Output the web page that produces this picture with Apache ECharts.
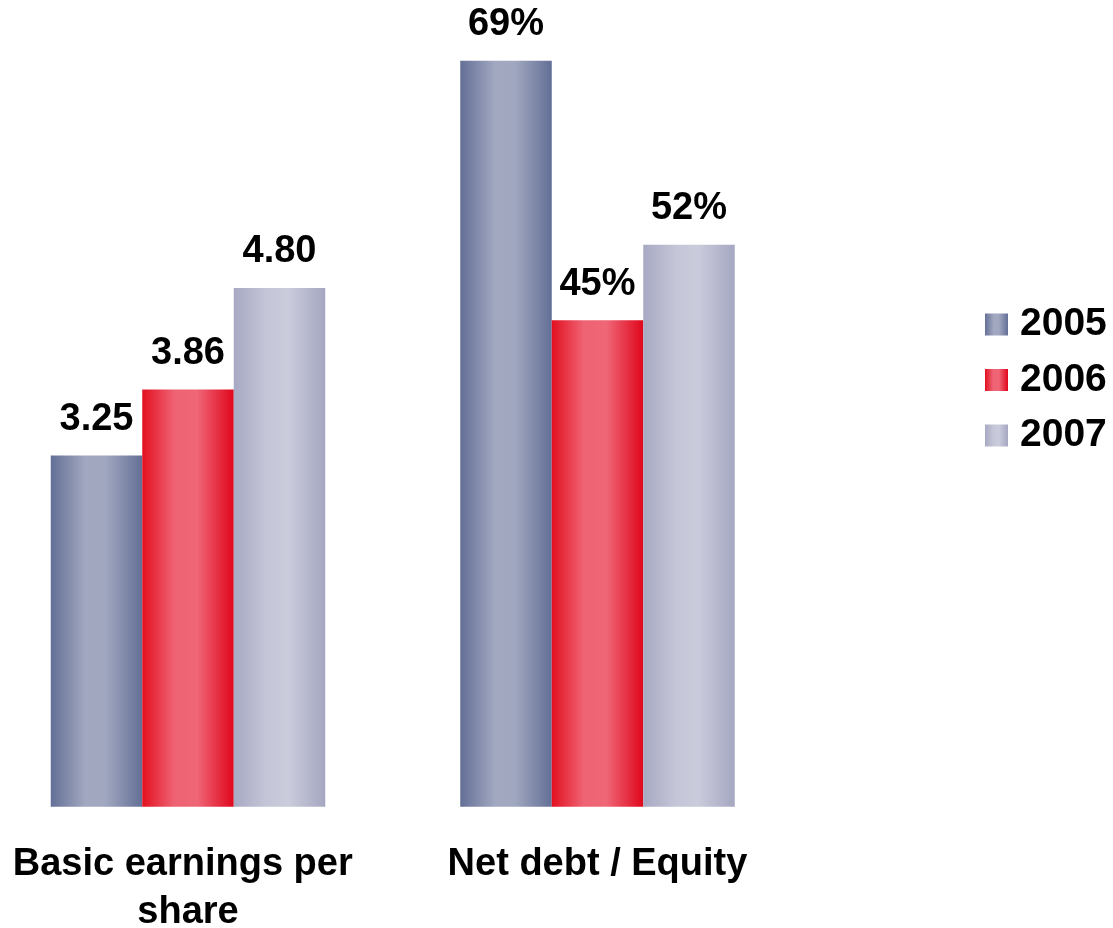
<!DOCTYPE html>
<html>
<head>
<meta charset="utf-8">
<script src="https://cdn.jsdelivr.net/npm/echarts@6/dist/echarts.min.js"></script>
<style>
html,body{margin:0;padding:0;background:#fff;}
#chart{width:1113px;height:928px;}
</style>
</head>
<body>
<div id="chart"></div>
<script>
// Categories and series (Net debt / Equity plotted on the shared axis as percent / 10, as in the source chart)
const categories = ['Basic earnings per share', 'Net debt / Equity'];
const years = ['2005', '2006', '2007'];
const values2005 = [3.25, 6.9];
const values2006 = [3.86, 4.5];
const values2007 = [4.80, 5.2];
const labels2005 = ['3.25', '69%'];
const labels2006 = ['3.86', '45%'];
const labels2007 = ['4.80', '52%'];

const FONT = '"Liberation Sans", Arial, Helvetica, sans-serif';

function grad(stops) {
  return new echarts.graphic.LinearGradient(0, 0, 1, 0,
    stops.map(s => ({offset: s[0], color: s[1]})));
}
const styles = [
  grad([[0, '#636f96'], [0.38, '#a2a8c0'], [0.6, '#a0a7bf'], [1, '#636f96']]),
  grad([[0, '#e2101f'], [0.35, '#ef6374'], [0.6, '#ef6676'], [1, '#e0061c']]),
  grad([[0, '#a7a9c3'], [0.35, '#c4c5d7'], [0.6, '#cacbdb'], [1, '#a5a7c2']])
];

function makeSeries(name, vals, labels, idx) {
  return {
    name: name,
    type: 'bar',
    barWidth: 91.5,
    barGap: '0%',
    data: vals.map((v, i) => ({value: v, label: {formatter: labels[i]}})),
    itemStyle: {color: styles[idx]},
    label: {
      show: true,
      position: 'top',
      distance: 17,
      color: '#000',
      fontFamily: FONT,
      fontWeight: 'bold',
      fontSize: 38
    }
  };
}

const chart = echarts.init(document.getElementById('chart'), null, {renderer: 'canvas'});
chart.setOption({
  animation: false,
  backgroundColor: '#fff',
  grid: {left: -16.75, width: 819, top: 6.8, bottom: 121.2, containLabel: false, outerBoundsMode: 'none'},
  legend: {
    orient: 'vertical',
    left: 985,
    top: 305,
    padding: 0,
    icon: 'rect',
    itemWidth: 23,
    itemHeight: 22,
    itemGap: 16.5,
    data: years,
    textStyle: {
      color: '#000',
      fontFamily: FONT,
      fontWeight: 'bold',
      fontSize: 39,
      lineHeight: 37,
      padding: [0, 0, 0, 7]
    }
  },
  xAxis: {
    type: 'category',
    data: categories,
    axisLine: {show: false},
    axisTick: {show: false},
    axisLabel: {
      interval: 0,
      margin: 34,
      width: 390,
      overflow: 'break',
      color: '#000',
      fontFamily: FONT,
      fontWeight: 'bold',
      fontSize: 38,
      lineHeight: 48,
      verticalAlign: 'top'
    }
  },
  yAxis: {
    type: 'value',
    min: 0,
    max: 7.4,
    show: false,
    splitLine: {show: false}
  },
  series: [
    makeSeries(years[0], values2005, labels2005, 0),
    makeSeries(years[1], values2006, labels2006, 1),
    makeSeries(years[2], values2007, labels2007, 2)
  ]
});
</script>
</body>
</html>
